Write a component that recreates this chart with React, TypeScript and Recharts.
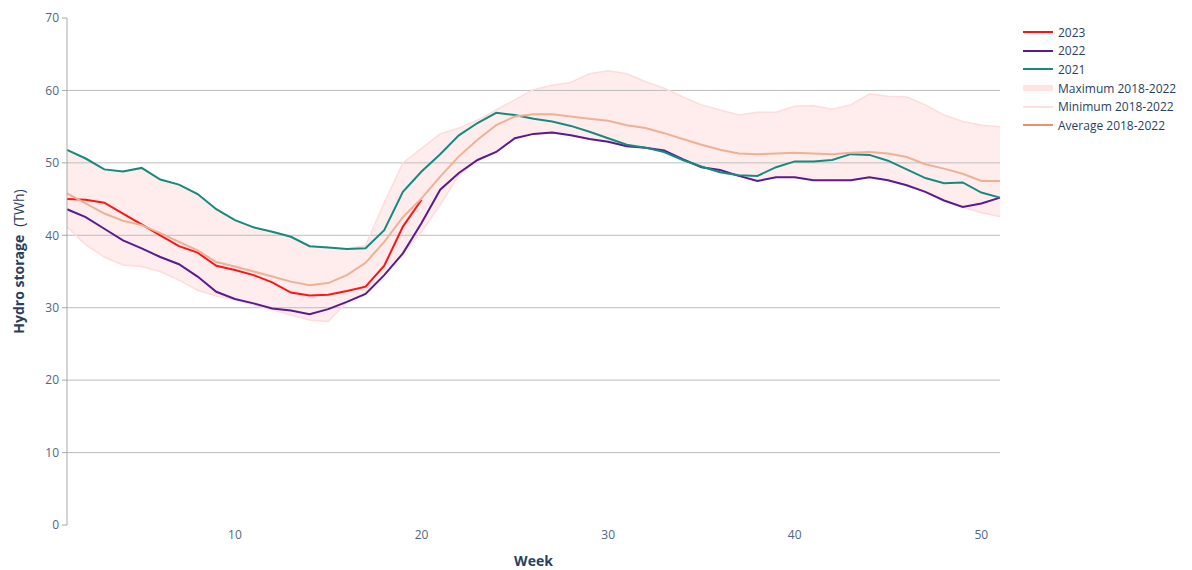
import {
  ComposedChart, Line, Area, XAxis, YAxis, ReferenceLine,
} from 'recharts';

// ─────────────────────────────────────────────────────────────────────────────
// Data (hydro storage, TWh, by week)
// ─────────────────────────────────────────────────────────────────────────────

const weeks = Array.from({ length: 51 }, (_, i) => i + 1);

const y2023 = [
  45.0, 44.9, 44.5, 43.0, 41.5, 40.0, 38.5, 37.6, 35.8, 35.2,
  34.5, 33.5, 32.1, 31.7, 31.8, 32.3, 32.9, 35.8, 41.2, 44.9,
];

const y2022 = [
  43.6, 42.5, 40.9, 39.3, 38.2, 37.0, 36.0, 34.3, 32.2, 31.2,
  30.6, 29.9, 29.6, 29.1, 29.8, 30.8, 31.9, 34.5, 37.5, 41.7,
  46.3, 48.6, 50.4, 51.5, 53.4, 54.0, 54.2, 53.8, 53.3, 52.9,
  52.3, 52.1, 51.7, 50.5, 49.4, 49.0, 48.2, 47.5, 48.0, 48.0,
  47.6, 47.6, 47.6, 48.0, 47.6, 46.9, 46.0, 44.8, 43.9, 44.4,
  45.2,
];

const y2021 = [
  51.8, 50.6, 49.1, 48.8, 49.3, 47.7, 47.0, 45.7, 43.6, 42.1,
  41.1, 40.5, 39.8, 38.5, 38.3, 38.1, 38.2, 40.7, 46.0, 48.8,
  51.2, 53.8, 55.5, 56.9, 56.6, 56.1, 55.7, 55.1, 54.3, 53.4,
  52.5, 52.1, 51.5, 50.4, 49.5, 48.7, 48.3, 48.2, 49.4, 50.2,
  50.2, 50.4, 51.2, 51.1, 50.3, 49.1, 47.9, 47.2, 47.3, 45.9,
  45.2,
];

const maxValues = [
  51.8, 50.6, 49.1, 48.8, 49.3, 47.7, 47.0, 45.7, 43.6, 42.1,
  41.1, 40.5, 39.8, 38.5, 38.3, 38.1, 38.6, 44.5, 50.0, 52.0,
  54.0, 54.8, 55.9, 57.3, 58.7, 60.1, 60.7, 61.1, 62.3, 62.7,
  62.3, 61.2, 60.3, 59.1, 58.0, 57.3, 56.6, 57.0, 57.0, 57.8,
  57.9, 57.4, 58.0, 59.5, 59.2, 59.1, 58.0, 56.6, 55.7, 55.2,
  55.0,
];

const minValues = [
  41.2, 38.7, 37.0, 35.9, 35.7, 35.0, 33.8, 32.4, 31.6, 31.1,
  30.4, 29.7, 29.0, 28.3, 28.1, 30.8, 31.9, 34.5, 37.5, 40.5,
  44.2, 48.3, 50.4, 51.5, 53.4, 54.0, 54.2, 53.8, 53.3, 52.9,
  52.3, 52.1, 51.5, 50.4, 49.4, 48.7, 48.2, 47.5, 48.0, 48.0,
  47.6, 47.6, 47.6, 48.0, 47.6, 46.9, 46.0, 44.8, 43.9, 43.1,
  42.6,
];

const avgValues = [
  45.8, 44.4, 43.0, 42.0, 41.4, 40.3, 39.1, 37.9, 36.3, 35.7,
  35.0, 34.3, 33.6, 33.1, 33.4, 34.5, 36.2, 39.1, 42.5, 45.1,
  48.1, 50.9, 53.2, 55.2, 56.4, 56.7, 56.7, 56.4, 56.1, 55.8,
  55.2, 54.8, 54.1, 53.3, 52.5, 51.8, 51.3, 51.2, 51.3, 51.4,
  51.3, 51.2, 51.4, 51.5, 51.3, 50.8, 49.8, 49.2, 48.5, 47.5,
  47.5,
];

const xTicks = [10, 20, 30, 40, 50];
const yTicks = [0, 10, 20, 30, 40, 50, 60, 70];
const gridValues = [10, 20, 30, 40, 50, 60];

const data = weeks.map((w, i) => ({
  week: w,
  y2023: y2023[i] ?? null,
  y2022: y2022[i],
  y2021: y2021[i],
  max: maxValues[i],
  min: minValues[i],
  band: [minValues[i], maxValues[i]],
  avg: avgValues[i],
}));

// ─────────────────────────────────────────────────────────────────────────────
// Styling
// ─────────────────────────────────────────────────────────────────────────────

const FONT = '"Open Sans", Verdana, Arial, sans-serif';
const TICK = { fill: '#506784', fontSize: 12, fontFamily: FONT };
const TITLE_COLOR = '#2a3f5f';
const BAND_LINE = '#ffdcdc';

const legendItems = [
  { label: '2023', color: '#ff1414', width: 2 },
  { label: '2022', color: '#5b1a91', width: 2 },
  { label: '2021', color: '#168a7f', width: 2 },
  { label: 'Maximum 2018-2022', color: '#ffe3e3', width: 6 },
  { label: 'Minimum 2018-2022', color: '#ffe0e0', width: 2 },
  { label: 'Average 2018-2022', color: '#e8936a', width: 2 },
];

function YTitle(props: any) {
  const { viewBox } = props;
  const x = viewBox.x + 18;
  const y = viewBox.y + viewBox.height / 2 - 10;
  return (
    <text
      x={x}
      y={y}
      transform={`rotate(-90 ${x} ${y})`}
      textAnchor="middle"
      dominantBaseline="central"
      fill={TITLE_COLOR}
      fontFamily={FONT}
      fontSize={14}
    >
      <tspan fontWeight="bold">Hydro storage</tspan>
      <tspan dx={8}>(TWh)</tspan>
    </text>
  );
}

function XTitle(props: any) {
  const { viewBox } = props;
  return (
    <text
      x={viewBox.x + viewBox.width / 2}
      y={viewBox.y + 35}
      textAnchor="middle"
      dominantBaseline="central"
      fill={TITLE_COLOR}
      fontFamily={FONT}
      fontSize={14}
      fontWeight="bold"
    >
      Week
    </text>
  );
}

export default function App() {
  return (
    <div style={{ position: 'absolute', left: 0, top: 0, width: 1192, height: 570, background: '#fff' }}>
      <ComposedChart
        width={1192}
        height={570}
        data={data}
        margin={{ top: 18, right: 192, bottom: 0, left: 0 }}
      >
        {gridValues.map(v => (
          <ReferenceLine key={v} y={v} stroke="#bdbdbd" strokeWidth={1} />
        ))}
        <XAxis
          dataKey="week"
          type="number"
          domain={[1, 51]}
          ticks={xTicks}
          axisLine={false}
          tickLine={false}
          tickSize={0}
          tickMargin={5}
          tick={TICK}
          height={45}
          label={<XTitle />}
        />
        <YAxis
          type="number"
          domain={[0, 70]}
          ticks={yTicks}
          width={67}
          axisLine={{ stroke: '#a8a8a8' }}
          tickLine={{ stroke: '#a8a8a8' }}
          tickSize={5}
          tickMargin={3}
          tick={TICK}
          label={<YTitle />}
        />
        <Area
          dataKey="band"
          fill="#ffeaea"
          fillOpacity={0.85}
          stroke="none"
          isAnimationActive={false}
        />
        <Line dataKey="max" stroke={BAND_LINE} strokeWidth={1.5} dot={false} isAnimationActive={false} />
        <Line dataKey="min" stroke={BAND_LINE} strokeWidth={1.5} dot={false} isAnimationActive={false} />
        <Line dataKey="y2023" stroke="#ff1414" strokeWidth={2} dot={false} isAnimationActive={false} />
        <Line dataKey="y2022" stroke="#5b1a91" strokeWidth={2} dot={false} isAnimationActive={false} />
        <Line dataKey="y2021" stroke="#168a7f" strokeWidth={2} dot={false} isAnimationActive={false} />
        <Line dataKey="avg" stroke="#eeb194" strokeWidth={2} dot={false} isAnimationActive={false} />
      </ComposedChart>

      {/* Legend */}
      <div style={{ position: 'absolute', left: 1023, top: 23, fontFamily: FONT, fontSize: 12, color: TITLE_COLOR }}>
        {legendItems.map(item => (
          <div key={item.label} style={{ display: 'flex', alignItems: 'center', height: 18.6 }}>
            <span
              style={{
                display: 'inline-block',
                width: 30,
                height: item.width,
                background: item.color,
                marginRight: 5,
              }}
            />
            <span>{item.label}</span>
          </div>
        ))}
      </div>
    </div>
  );
}
